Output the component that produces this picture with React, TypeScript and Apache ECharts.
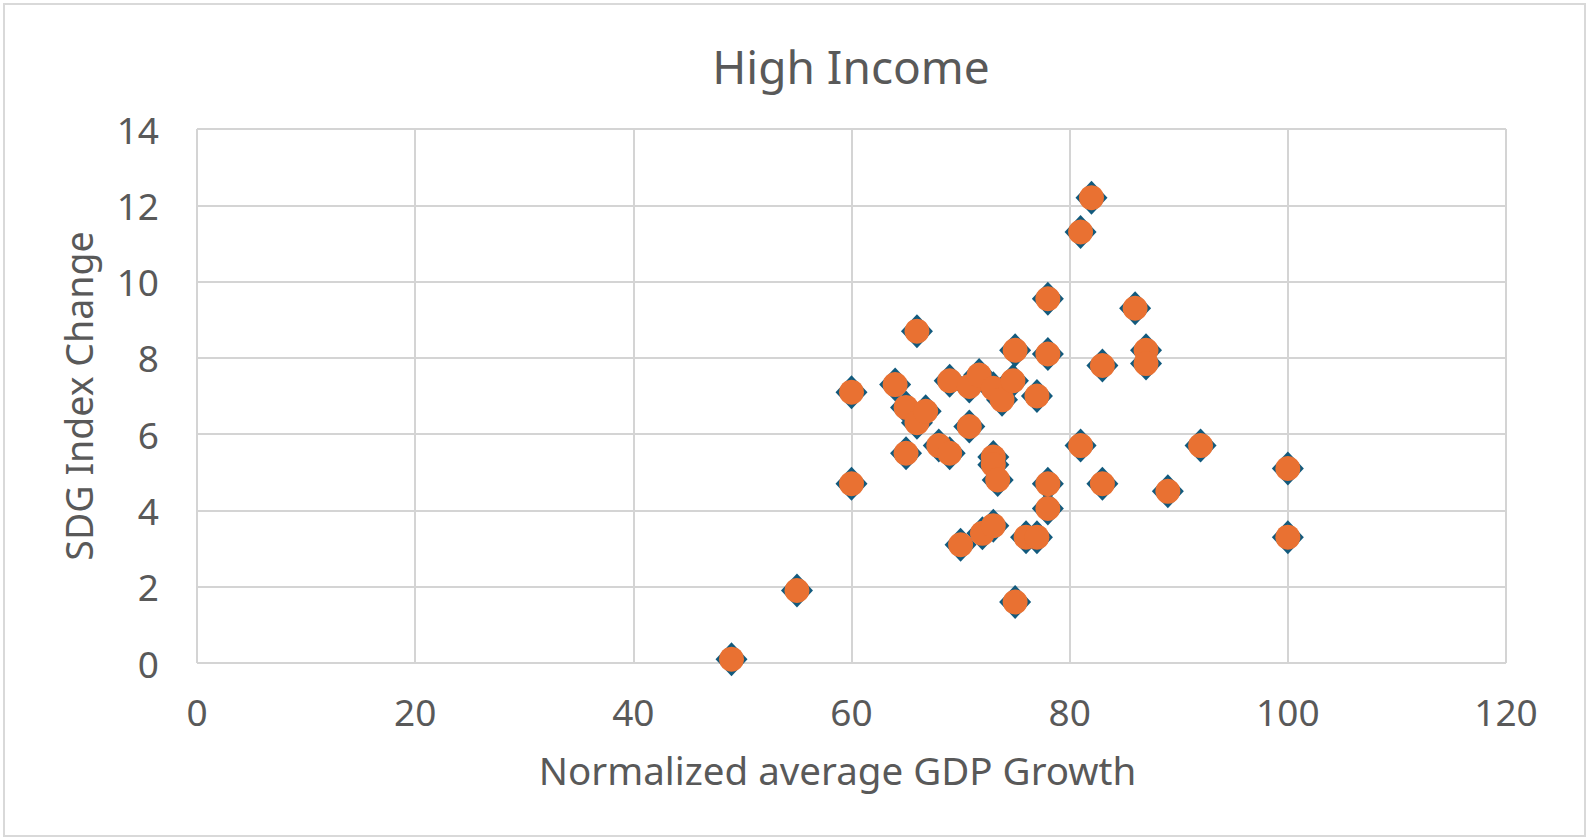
import React, { useEffect, useRef } from 'react';
import * as echarts from 'echarts';

// normalized average GDP growth vs SDG index change, high-income countries
const gdpGrowth = [
  49, 55, 60, 60, 64, 65, 65, 66, 66, 66.8,
  68, 69, 69, 70, 70.8, 70.8, 71.7, 72, 73, 73,
  73, 73.4, 73, 73.8, 74.8, 75, 75, 76, 77, 77,
  78, 78, 78, 78, 81, 81, 82, 83, 83, 86,
  87, 87, 89, 92, 100, 100,
];
const sdgChange = [
  0.1, 1.9, 7.1, 4.7, 7.3, 6.7, 5.5, 8.7, 6.3, 6.6,
  5.7, 7.4, 5.5, 3.1, 7.25, 6.2, 7.55, 3.4, 7.2, 5.4,
  5.2, 4.8, 3.6, 6.9, 7.4, 8.2, 1.6, 3.3, 3.3, 7.0,
  9.55, 8.1, 4.7, 4.05, 11.3, 5.7, 12.2, 7.8, 4.7, 9.3,
  8.2, 7.85, 4.5, 5.7, 5.1, 3.3,
];

const FONT = '"Noto Sans", sans-serif';
const TEXT = '#595959';
const GRID = '#d4d4d4';

const App: React.FC = () => {
  const chartRef = useRef<HTMLDivElement>(null);

  useEffect(() => {
    document.body.style.margin = '0';
    if (!chartRef.current) return;
    const chart = echarts.init(chartRef.current, undefined, { renderer: 'svg' });

    const points = gdpGrowth.map((x, i) => [x, sdgChange[i]]);

    chart.setOption({
      animation: false,
      backgroundColor: '#ffffff',
      graphic: [
        {
          type: 'rect',
          shape: { x: 4, y: 4, width: 1581, height: 832 },
          style: { fill: 'none', stroke: '#d9d9d9', lineWidth: 2 },
          silent: true,
        },
        {
          type: 'text',
          x: 851,
          y: 66,
          style: {
            text: 'High Income',
            fontFamily: FONT,
            fontSize: 46,
            fill: TEXT,
            align: 'center',
            verticalAlign: 'middle',
          },
          silent: true,
        },
      ],
      grid: { left: 197, right: 84, top: 129, bottom: 177 },
      xAxis: {
        type: 'value',
        min: 0,
        max: 120,
        interval: 20,
        name: 'Normalized average GDP Growth',
        nameLocation: 'middle',
        nameGap: 87,
        nameTextStyle: { fontFamily: FONT, fontSize: 38.5, color: TEXT, padding: [0, 28, 0, 0] },
        axisLine: { show: false },
        axisTick: { show: false },
        axisLabel: { fontFamily: FONT, fontSize: 37, color: TEXT, margin: 30 },
        splitLine: { show: true, lineStyle: { color: GRID, width: 2 } },
      },
      yAxis: {
        type: 'value',
        min: 0,
        max: 14,
        interval: 2,
        name: 'SDG Index Change',
        nameLocation: 'middle',
        nameGap: 100,
        nameTextStyle: { fontFamily: FONT, fontSize: 37.5, color: TEXT },
        axisLine: { show: false },
        axisTick: { show: false },
        axisLabel: { fontFamily: FONT, fontSize: 37, color: TEXT, margin: 38 },
        splitLine: { show: true, lineStyle: { color: GRID, width: 2 } },
      },
      series: [
        {
          type: 'scatter',
          data: points,
          symbol: 'diamond',
          symbolSize: [32, 34],
          itemStyle: { color: '#125a7d', opacity: 1 },
          z: 2,
        },
        {
          type: 'scatter',
          data: points,
          symbol: 'circle',
          symbolSize: 25,
          itemStyle: { color: '#E97132', opacity: 1 },
          z: 3,
        },
      ],
    });

    return () => {
      chart.dispose();
    };
  }, []);

  return <div ref={chartRef} style={{ width: 1590, height: 840 }} />;
};

export default App;
